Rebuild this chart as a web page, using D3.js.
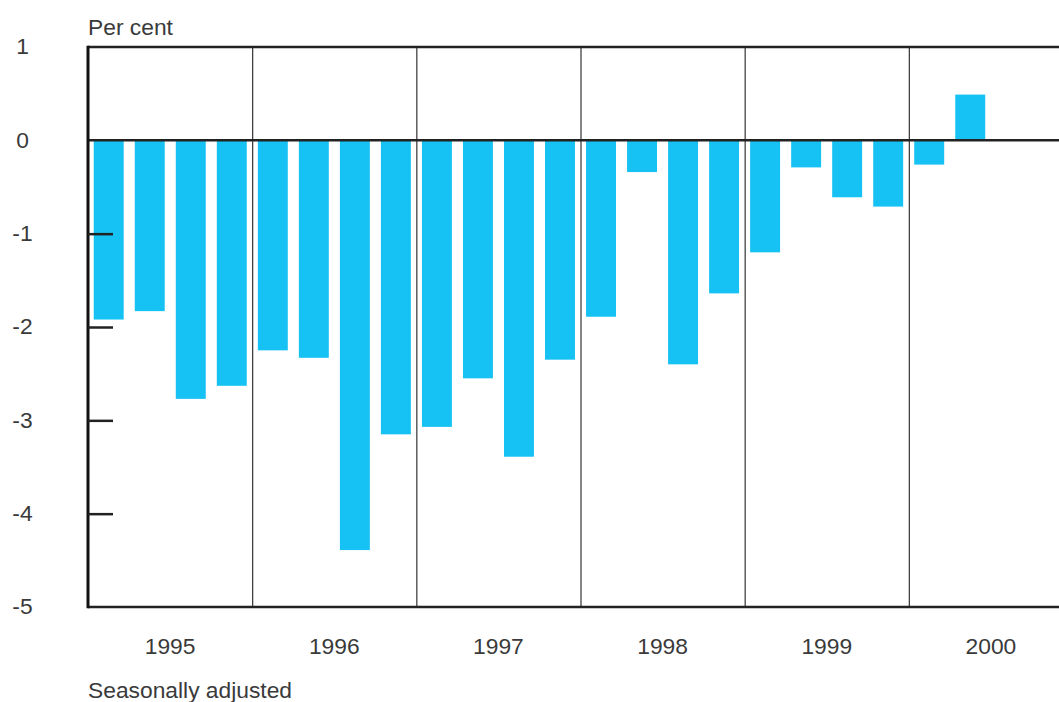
<!DOCTYPE html>
<html><head><meta charset="utf-8">
<script src="https://cdn.jsdelivr.net/npm/d3@7"></script>
<style>body{margin:0;background:#fff}svg{display:block}text{font-family:"Liberation Sans",Arial,sans-serif;fill:#3a3a3a}</style>
</head><body><svg id="c" width="1059" height="702"></svg>
<script>
const years = ["1995","1996","1997","1998","1999","2000"];
const quarters = ["1995Q1","1995Q2","1995Q3","1995Q4","1996Q1","1996Q2","1996Q3","1996Q4","1997Q1","1997Q2","1997Q3","1997Q4","1998Q1","1998Q2","1998Q3","1998Q4","1999Q1","1999Q2","1999Q3","1999Q4","2000Q1","2000Q2","2000Q3","2000Q4"];
const values = [-1.92,-1.83,-2.77,-2.63,-2.25,-2.33,-4.39,-3.15,-3.07,-2.55,-3.39,-2.35,-1.89,-0.34,-2.40,-1.64,-1.20,-0.29,-0.61,-0.71,-0.26,0.49];
const yTicks = [1,0,-1,-2,-3,-4,-5];

const svg = d3.select("#c");
const L = 88, R = 1073, T = 47, B = 607;
const y = d3.scaleLinear().domain([-5,1]).range([B,T]);
const x = d3.scaleBand().domain(quarters).range([L,R]).paddingInner(0.27).paddingOuter(0.14);
const xy = d3.scaleBand().domain(years).range([L,R]);
const FS = 22.8;

// bars
svg.append("g").selectAll("rect").data(values).join("rect")
  .attr("x",(d,i)=>x(quarters[i]))
  .attr("width",x.bandwidth())
  .attr("y",d=>y(Math.max(0,d)))
  .attr("height",d=>Math.abs(y(d)-y(0)))
  .attr("fill","#16C1F3");

// year separators
svg.append("g").selectAll("line").data(years.slice(1)).join("line")
  .attr("x1",d=>xy(d)+0.5).attr("x2",d=>xy(d)+0.5)
  .attr("y1",T).attr("y2",B)
  .attr("stroke","#333").attr("stroke-width",1.2);

// frame lines
svg.append("line").attr("x1",L).attr("x2",R).attr("y1",T).attr("y2",T).attr("stroke","#222").attr("stroke-width",2.5);
svg.append("line").attr("x1",L).attr("x2",R).attr("y1",B).attr("y2",B).attr("stroke","#222").attr("stroke-width",2.5);
svg.append("line").attr("x1",L).attr("x2",R).attr("y1",y(0)).attr("y2",y(0)).attr("stroke","#222").attr("stroke-width",2.5);
svg.append("line").attr("x1",L).attr("x2",L).attr("y1",T-1.25).attr("y2",B+1.25).attr("stroke","#111").attr("stroke-width",3);

// y axis using d3 axis (ticks inside)
const yAxis = d3.axisRight(y).tickValues(yTicks.filter(v=>v<0 && v>-5)).tickSize(25).tickFormat("");
const ga = svg.append("g").attr("transform",`translate(${L},0)`).call(yAxis);
ga.select(".domain").remove();
ga.selectAll(".tick line").attr("stroke","#222").attr("stroke-width",2.5);

// y labels
svg.append("g").selectAll("text").data(yTicks).join("text")
  .attr("x",22.5).attr("y",d=>y(d)-1).attr("dy","0.36em")
  .attr("text-anchor","middle").attr("font-size",FS).text(d=>d);

// year labels
svg.append("g").selectAll("text").data(years).join("text")
  .attr("x",d=>xy(d)+xy.bandwidth()/2).attr("y",654)
  .attr("text-anchor","middle").attr("font-size",FS).text(d=>d);

svg.append("text").attr("x",88).attr("y",35).attr("font-size",FS).text("Per cent");
svg.append("text").attr("x",88).attr("y",698).attr("font-size",FS).text("Seasonally adjusted");
</script></body></html>
